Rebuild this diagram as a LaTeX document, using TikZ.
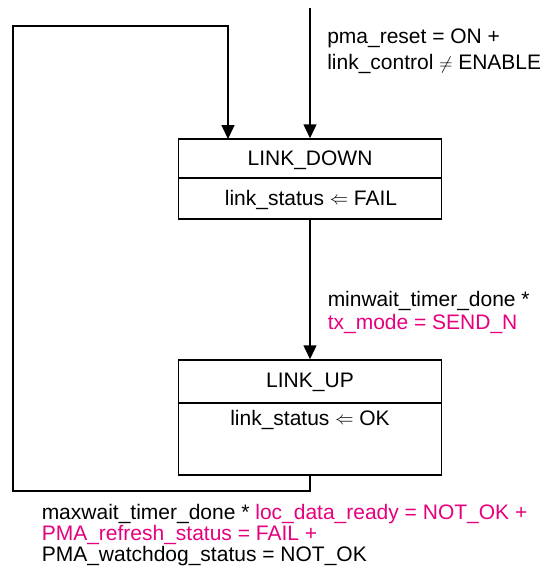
\documentclass[tikz,border=0pt]{standalone}
\usepackage{fontspec}
\usepackage{graphicx}
\setmainfont{Liberation Sans}
\usetikzlibrary{arrows.meta}
\definecolor{cond}{RGB}{230,0,126}
\newcommand{\sym}[2]{\raisebox{#1}{\scalebox{0.88}{$#2$}}}
\begin{document}
\begin{tikzpicture}[x=1pt,y=1pt,
  line width=1.5pt,
  statebox/.style={draw, minimum width=263pt, inner sep=0pt},
  flow/.style={-{Triangle[length=14pt,width=13pt]}},
  lbl/.style={anchor=base west, inner sep=0pt, font=\fontsize{21}{21}\selectfont},
  title/.style={anchor=base, inner sep=0pt, font=\fontsize{21}{21}\selectfont}]
\useasboundingbox (0,0) rectangle (539,-571);

% state boxes
\node[statebox, minimum height=80pt] (down) at (310,-179) {};
\node[statebox, minimum height=115pt] (up) at (310,-417.5) {};
\draw (down.west |- 0,-178) -- (down.east |- 0,-178);
\draw (up.west |- 0,-403) -- (up.east |- 0,-403);

% state titles and actions
\node[title] (downname) at (310,-165.5) {LINK\_DOWN};
\node[title] (downact) at (311,-205) {link\_status \sym{0.8pt}{\Leftarrow} FAIL};
\node[title] (upname) at (310,-387) {LINK\_UP};
\node[title] (upact) at (310,-425) {link\_status \sym{0.8pt}{\Leftarrow} OK};

% entry transition
\coordinate (entry) at (310,-8);
\draw[flow] (entry) -- (down.north);

% LINK_DOWN -> LINK_UP
\draw[flow] (down.south) -- (up.north);

% LINK_UP -> LINK_DOWN loop
\coordinate (loopbl) at (13,-491);
\coordinate (looptl) at (13,-26);
\coordinate (downin) at (228,-139);
\draw[flow] (up.south) |- (loopbl) -- (looptl) -| (downin);

% transition conditions
\node[lbl] (c1a) at (326.5,-43.5) {pma\_reset = ON +};
\node[lbl] (c1b) at (326.5,-69.5) {link\_control \sym{0.5pt}{\neq} ENABLE};
\node[lbl] (c2a) at (327,-306) {minwait\_timer\_done *};
\node[lbl, text=cond] (c2b) at (327,-329) {tx\_mode = SEND\_N};
\node[lbl] (c3a) at (41,-519) {maxwait\_timer\_done * \textcolor{cond}{loc\_data\_ready = NOT\_OK +}};
\node[lbl, text=cond] (c3b) at (41,-540) {PMA\_refresh\_status = FAIL +};
\node[lbl] (c3c) at (41,-561) {PMA\_watchdog\_status = NOT\_OK};
\end{tikzpicture}
\end{document}
